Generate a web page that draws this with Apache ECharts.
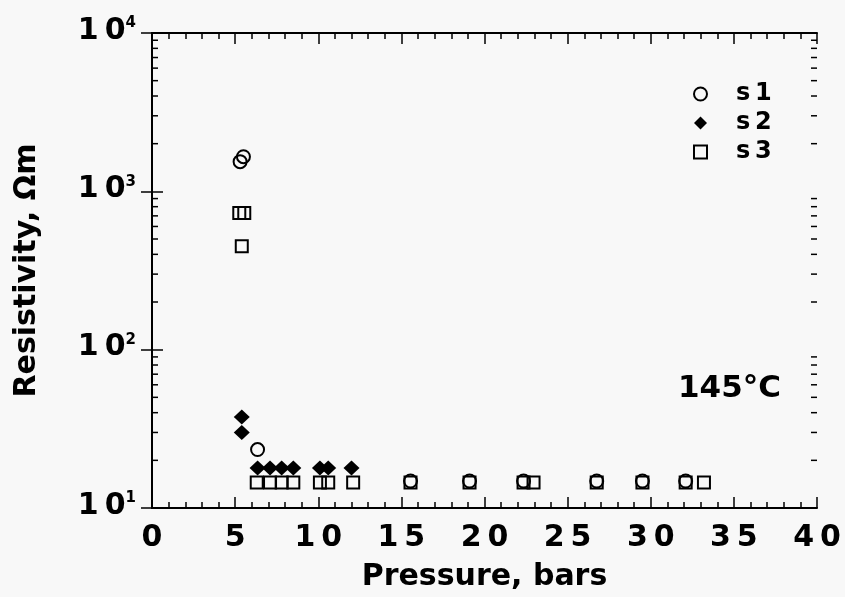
<!DOCTYPE html>
<html>
<head>
<meta charset="utf-8">
<script src="https://cdn.jsdelivr.net/npm/echarts@6/dist/echarts.min.js"></script>
<style>
html,body{margin:0;padding:0;background:#f8f8f8;}
#chart{width:845px;height:597px;}
</style>
</head>
<body>
<div id="chart"></div>
<script>
// ---- data ----
var seriesNames = ['s1', 's2', 's3'];
var s1X = [5.3, 5.5, 6.35, 15.55, 19.1, 22.35, 26.75, 29.5, 32.1];
var s1Y = [1540, 1655, 23.4, 14.8, 14.8, 14.8, 14.8, 14.8, 14.8];
var s2X = [5.4, 5.4, 6.35, 7.1, 7.8, 8.5, 10.1, 10.6, 12.0];
var s2Y = [37.5, 30, 17.9, 17.9, 17.9, 17.9, 17.9, 17.9, 17.9];
var s3X = [5.25, 5.55, 5.4, 6.3, 7.1, 7.8, 8.5, 10.1, 10.6, 12.1, 15.55, 19.1, 22.35, 22.95, 26.75, 29.5, 32.1, 33.2];
var s3Y = [730, 730, 450, 14.5, 14.5, 14.5, 14.5, 14.5, 14.5, 14.5, 14.5, 14.5, 14.5, 14.5, 14.5, 14.5, 14.5, 14.5];
var xMin = 0, xMax = 40, xStep = 5;
var yMin = 10, yMax = 10000;
var yMinorTicks = [20,30,40,50,60,70,80,90,200,300,400,500,600,700,800,900,2000,3000,4000,5000,6000,7000,8000,9000];
var xTitle = 'Pressure, bars';
var yTitle = 'Resistivity, \u03A9m';
var note = '145\u00B0C';

function zip(xs, ys) { return xs.map(function (x, i) { return [x, ys[i]]; }); }

var FONT = '"DejaVu Sans", sans-serif';
var INK = '#000';

var chart = echarts.init(document.getElementById('chart'), null, {renderer: 'canvas'});

var option = {
  backgroundColor: '#f8f8f8',
  animation: false,
  grid: {left: 152, right: 28, top: 33, bottom: 85, containLabel: false},
  legend: {
    data: seriesNames,
    orient: 'vertical',
    left: 688,
    top: 77,
    itemWidth: 13,
    itemHeight: 13,
    itemGap: 5,
    selectedMode: false,
    formatter: function (n) { return n.replace(/(\d)/, '\u2009$1'); },
    textStyle: {fontFamily: FONT, fontWeight: 'bold', fontSize: 24, color: INK, lineHeight: 23, padding: [0, 0, 0, 24]}
  },
  xAxis: [{
    type: 'value', min: xMin, max: xMax, interval: xStep, position: 'bottom',
    name: xTitle, nameLocation: 'middle', nameGap: 54,
    nameTextStyle: {fontFamily: FONT, fontWeight: 'bold', fontSize: 30, color: INK},
    axisLine: {lineStyle: {color: INK, width: 2}},
    axisTick: {inside: true, length: 11, lineStyle: {color: INK, width: 1.5}},
    minorTick: {show: true, splitNumber: 5, length: 6, lineStyle: {color: INK, width: 1.5}},
    splitLine: {show: false},
    axisLabel: {margin: 15, fontFamily: FONT, fontWeight: 'bold', fontSize: 30, color: INK,
      formatter: function (v) { return String(v).split('').join('\u2009'); }}
  }, {
    type: 'value', min: xMin, max: xMax, interval: xStep, position: 'top',
    axisLine: {lineStyle: {color: INK, width: 2}},
    axisTick: {inside: true, length: 11, lineStyle: {color: INK, width: 1.5}},
    minorTick: {show: true, splitNumber: 5, length: 6, lineStyle: {color: INK, width: 1.5}},
    splitLine: {show: false},
    axisLabel: {show: false}
  }],
  yAxis: [{
    type: 'log', logBase: 10, min: yMin, max: yMax, position: 'left',
    name: yTitle, nameLocation: 'middle', nameGap: 110, nameRotate: 90,
    nameTextStyle: {fontFamily: FONT, fontWeight: 'bold', fontSize: 30, color: INK},
    axisLine: {lineStyle: {color: INK, width: 2}},
    axisTick: {inside: true, length: 11, lineStyle: {color: INK, width: 1.5}},
    splitLine: {show: false},
    axisLabel: {
      margin: 16,
      formatter: function (v) { return '{b|1\u20090}{s|' + Math.round(Math.log10(v)) + '}'; },
      rich: {
        b: {fontFamily: FONT, fontWeight: 'bold', fontSize: 30, lineHeight: 30, color: INK},
        s: {fontFamily: FONT, fontWeight: 'bold', fontSize: 15, lineHeight: 14, color: INK, verticalAlign: 'top'}
      },
      padding: [0, 0, 4, 0]
    }
  }, {
    type: 'log', logBase: 10, min: yMin, max: yMax, position: 'right',
    axisLine: {lineStyle: {color: INK, width: 2}},
    axisTick: {inside: true, length: 11, lineStyle: {color: INK, width: 1.5}},
    splitLine: {show: false},
    axisLabel: {show: false}
  }],
  graphic: [{
    type: 'text', left: 678, top: 373,
    style: {text: note, font: 'bold 31px ' + FONT, fill: INK}
  }],
  series: [{
    name: 'yminor', type: 'custom', xAxisIndex: 0, yAxisIndex: 0, silent: true, clip: false,
    data: yMinorTicks.map(function (v) { return [xMin, v]; }),
    renderItem: function (params, api) {
      var v = api.value(1);
      var pl = api.coord([xMin, v]);
      var pr = api.coord([xMax, v]);
      return {type: 'group', children: [
        {type: 'line', shape: {x1: pl[0], y1: pl[1], x2: pl[0] + 6, y2: pl[1]}, style: {stroke: INK, lineWidth: 1.5}},
        {type: 'line', shape: {x1: pr[0], y1: pr[1], x2: pr[0] - 6, y2: pr[1]}, style: {stroke: INK, lineWidth: 1.5}}
      ]};
    }
  }, {
    name: 's1', type: 'scatter', data: zip(s1X, s1Y), symbol: 'circle', symbolSize: 13,
    itemStyle: {color: 'rgba(0,0,0,0)', borderColor: INK, borderWidth: 2, opacity: 1}
  }, {
    name: 's2', type: 'scatter', data: zip(s2X, s2Y), symbol: 'diamond', symbolSize: [16, 15],
    itemStyle: {color: INK, borderColor: INK, borderWidth: 0, opacity: 1}
  }, {
    name: 's3', type: 'scatter', data: zip(s3X, s3Y), symbol: 'rect', symbolSize: 12,
    itemStyle: {color: 'rgba(0,0,0,0)', borderColor: INK, borderWidth: 2, opacity: 1}
  }]
};
chart.setOption(option);
</script>
</body>
</html>
